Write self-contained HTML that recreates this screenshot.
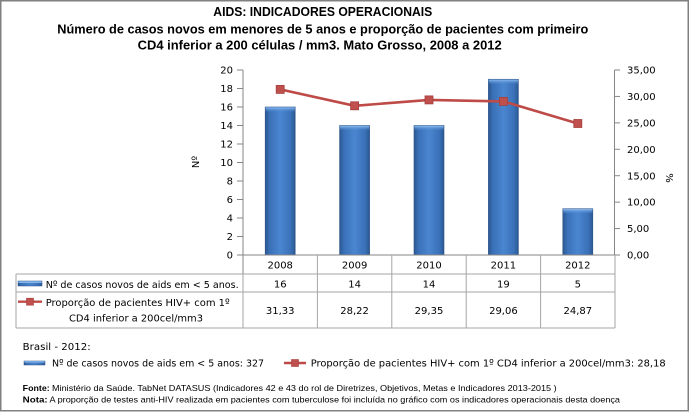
<!DOCTYPE html>
<html><head><meta charset="utf-8"><style>
html,body{margin:0;padding:0;background:#fff;}
svg{display:block;}
text{font-family:"DejaVu Sans","Liberation Sans",sans-serif;fill:#000;}
.t{font-family:"Liberation Sans",sans-serif;font-weight:bold;font-size:12.5px;}
.f{font-family:"Liberation Sans",sans-serif;font-size:8.5px;}
.a{font-size:10px;}
</style></head><body>
<svg width="690" height="413" viewBox="0 0 690 413" xmlns="http://www.w3.org/2000/svg">
<defs>
<linearGradient id="bg" x1="0" y1="0" x2="1" y2="0">
<stop offset="0" stop-color="#2b5790"/>
<stop offset="0.15" stop-color="#3a71b8"/>
<stop offset="0.5" stop-color="#4a86d0"/>
<stop offset="0.85" stop-color="#3a71b8"/>
<stop offset="1" stop-color="#2b5790"/>
</linearGradient>
<linearGradient id="bt" x1="0" y1="0" x2="0" y2="1">
<stop offset="0" stop-color="#8dbcf0"/>
<stop offset="1" stop-color="#4a86d0" stop-opacity="0"/>
</linearGradient>
</defs>
<rect x="0" y="0" width="690" height="413" fill="#fff"/>
<rect x="0.75" y="0.75" width="687.5" height="410" fill="none" stroke="#808080" stroke-width="1.5"/>

<!-- titles -->
<text class="t" x="213.3" y="16" textLength="219" lengthAdjust="spacingAndGlyphs">AIDS: INDICADORES OPERACIONAIS</text>
<text class="t" x="57.3" y="33.5" textLength="531" lengthAdjust="spacingAndGlyphs">Número de casos novos em menores de 5 anos e proporção de pacientes com primeiro</text>
<text class="t" x="137.7" y="49.5" textLength="364" lengthAdjust="spacingAndGlyphs">CD4 inferior a 200 células / mm3. Mato Grosso, 2008 a 2012</text>

<!-- bars -->
<g>
<rect x="265.2" y="107" width="30" height="148" fill="url(#bg)" stroke="#2a5288" stroke-width="0.6"/>
<rect x="265.5" y="107.3" width="29.4" height="5" fill="url(#bt)"/>
<rect x="339.6" y="125.5" width="30" height="129.5" fill="url(#bg)" stroke="#2a5288" stroke-width="0.6"/>
<rect x="339.9" y="125.8" width="29.4" height="5" fill="url(#bt)"/>
<rect x="414" y="125.5" width="30" height="129.5" fill="url(#bg)" stroke="#2a5288" stroke-width="0.6"/>
<rect x="414.3" y="125.8" width="29.4" height="5" fill="url(#bt)"/>
<rect x="488.4" y="79.25" width="30" height="175.75" fill="url(#bg)" stroke="#2a5288" stroke-width="0.6"/>
<rect x="488.7" y="79.55" width="29.4" height="5" fill="url(#bt)"/>
<rect x="562.8" y="208.75" width="30" height="46.25" fill="url(#bg)" stroke="#2a5288" stroke-width="0.6"/>
<rect x="563.1" y="209.05" width="29.4" height="5" fill="url(#bt)"/>
</g>

<!-- axes -->
<g stroke="#868686" stroke-width="1" fill="none">
<line x1="243" y1="70" x2="243" y2="274"/>
<line x1="614.5" y1="70" x2="614.5" y2="255"/>
<line x1="243" y1="255" x2="615" y2="255"/>
<line x1="237" y1="255" x2="243" y2="255"/>
<line x1="237" y1="236.5" x2="243" y2="236.5"/>
<line x1="237" y1="218" x2="243" y2="218"/>
<line x1="237" y1="199.5" x2="243" y2="199.5"/>
<line x1="237" y1="181" x2="243" y2="181"/>
<line x1="237" y1="162.5" x2="243" y2="162.5"/>
<line x1="237" y1="144" x2="243" y2="144"/>
<line x1="237" y1="125.5" x2="243" y2="125.5"/>
<line x1="237" y1="107" x2="243" y2="107"/>
<line x1="237" y1="88.5" x2="243" y2="88.5"/>
<line x1="237" y1="70" x2="243" y2="70"/>
<line x1="614.5" y1="255" x2="620" y2="255"/>
<line x1="614.5" y1="228.57" x2="620" y2="228.57"/>
<line x1="614.5" y1="202.14" x2="620" y2="202.14"/>
<line x1="614.5" y1="175.71" x2="620" y2="175.71"/>
<line x1="614.5" y1="149.29" x2="620" y2="149.29"/>
<line x1="614.5" y1="122.86" x2="620" y2="122.86"/>
<line x1="614.5" y1="96.43" x2="620" y2="96.43"/>
<line x1="614.5" y1="70" x2="620" y2="70"/>
</g>

<!-- table lines -->
<g stroke="#a6a6a6" stroke-width="1" fill="none">
<line x1="16" y1="274" x2="615" y2="274"/>
<line x1="16" y1="292" x2="615" y2="292"/>
<line x1="16" y1="328" x2="615" y2="328"/>
<line x1="16" y1="274" x2="16" y2="328"/>
<line x1="243" y1="274" x2="243" y2="328"/>
<line x1="317.4" y1="255" x2="317.4" y2="328"/>
<line x1="391.8" y1="255" x2="391.8" y2="328"/>
<line x1="466.2" y1="255" x2="466.2" y2="328"/>
<line x1="540.6" y1="255" x2="540.6" y2="328"/>
<line x1="615" y1="255" x2="615" y2="328"/>
</g>

<!-- line series -->
<polyline points="280.2,89.4 354.6,105.8 429,99.9 503.4,101.4 577.8,123.5" fill="none" stroke="#be4b48" stroke-width="2.6" stroke-linejoin="round"/>
<g fill="#c0504d" stroke="#a33f3c" stroke-width="0.8">
<rect x="276.2" y="85.4" width="8" height="8"/>
<rect x="350.6" y="101.8" width="8" height="8"/>
<rect x="425" y="95.9" width="8" height="8"/>
<rect x="499.4" y="97.4" width="8" height="8"/>
<rect x="573.8" y="119.5" width="8" height="8"/>
</g>

<!-- tick labels -->
<g class="a" text-anchor="end">
<text x="233" y="258.6">0</text>
<text x="233" y="240.1">2</text>
<text x="233" y="221.6">4</text>
<text x="233" y="203.1">6</text>
<text x="233" y="184.6">8</text>
<text x="233" y="166.1">10</text>
<text x="233" y="147.6">12</text>
<text x="233" y="129.1">14</text>
<text x="233" y="110.6">16</text>
<text x="233" y="92.1">18</text>
<text x="233" y="73.6">20</text>
</g>
<g class="a">
<text x="627" y="258.6">0,00</text>
<text x="627" y="232.2">5,00</text>
<text x="627" y="205.7">10,00</text>
<text x="627" y="179.3">15,00</text>
<text x="627" y="152.9">20,00</text>
<text x="627" y="126.5">25,00</text>
<text x="627" y="100">30,00</text>
<text x="627" y="73.6">35,00</text>
</g>
<text class="a" transform="translate(199,162) rotate(-90)" text-anchor="middle">Nº</text>
<text class="a" transform="translate(666,178) rotate(90)" text-anchor="middle">%</text>

<!-- table text -->
<g class="a" text-anchor="middle">
<text x="280.2" y="268.5">2008</text>
<text x="354.6" y="268.5">2009</text>
<text x="429" y="268.5">2010</text>
<text x="503.4" y="268.5">2011</text>
<text x="577.8" y="268.5">2012</text>
<text x="280.2" y="287.5">16</text>
<text x="354.6" y="287.5">14</text>
<text x="429" y="287.5">14</text>
<text x="503.4" y="287.5">19</text>
<text x="577.8" y="287.5">5</text>
<text x="280.2" y="314">31,33</text>
<text x="354.6" y="314">28,22</text>
<text x="429" y="314">29,35</text>
<text x="503.4" y="314">29,06</text>
<text x="577.8" y="314">24,87</text>
</g>
<rect x="18" y="281" width="24" height="5" fill="url(#bg)" stroke="#2a5288" stroke-width="0.5"/>
<rect x="18.3" y="281.3" width="23.4" height="1.6" fill="#8dbcf0"/>
<text class="a" x="45.7" y="288" textLength="193" lengthAdjust="spacingAndGlyphs">Nº de casos novos de aids em &lt; 5 anos.</text>
<line x1="18" y1="301.7" x2="42" y2="301.7" stroke="#be4b48" stroke-width="2.4"/>
<rect x="26.5" y="298.2" width="7" height="7" fill="#c0504d" stroke="#a33f3c" stroke-width="0.6"/>
<text class="a" x="45.7" y="306" textLength="184" lengthAdjust="spacingAndGlyphs">Proporção de pacientes HIV+ com 1º</text>
<text class="a" x="69" y="321.3" textLength="134" lengthAdjust="spacingAndGlyphs">CD4 inferior a 200cel/mm3</text>

<!-- Brasil -->
<text class="a" x="22.7" y="350" textLength="68" lengthAdjust="spacingAndGlyphs">Brasil - 2012:</text>
<rect x="24" y="361" width="21" height="4" fill="url(#bg)" stroke="#2a5288" stroke-width="0.5"/>
<rect x="24.3" y="361.2" width="20.4" height="1.3" fill="#8dbcf0"/>
<text class="a" x="52" y="366.7" textLength="212" lengthAdjust="spacingAndGlyphs">Nº de casos novos de aids em &lt; 5 anos: 327</text>
<line x1="284" y1="363" x2="306" y2="363" stroke="#be4b48" stroke-width="2.4"/>
<rect x="291.5" y="359.5" width="7" height="7" fill="#c0504d" stroke="#a33f3c" stroke-width="0.6"/>
<text class="a" x="310.7" y="366.7" textLength="355" lengthAdjust="spacingAndGlyphs">Proporção de pacientes HIV+ com 1º CD4 inferior a 200cel/mm3: 28,18</text>

<!-- footnotes -->
<text class="f" x="22.7" y="391" font-weight="bold" textLength="27" lengthAdjust="spacingAndGlyphs">Fonte:</text>
<text class="f" x="52" y="391" textLength="504.7" lengthAdjust="spacingAndGlyphs">Ministério da Saúde. TabNet DATASUS (Indicadores 42 e 43 do rol de Diretrizes, Objetivos, Metas e Indicadores 2013-2015 )</text>
<text class="f" x="22.7" y="402.7" font-weight="bold" textLength="25" lengthAdjust="spacingAndGlyphs">Nota:</text>
<text class="f" x="49.5" y="402.7" textLength="570.5" lengthAdjust="spacingAndGlyphs">A proporção de testes anti-HIV realizada em pacientes com tuberculose foi incluída no gráfico com os indicadores operacionais desta doença</text>
</svg>
</body></html>
